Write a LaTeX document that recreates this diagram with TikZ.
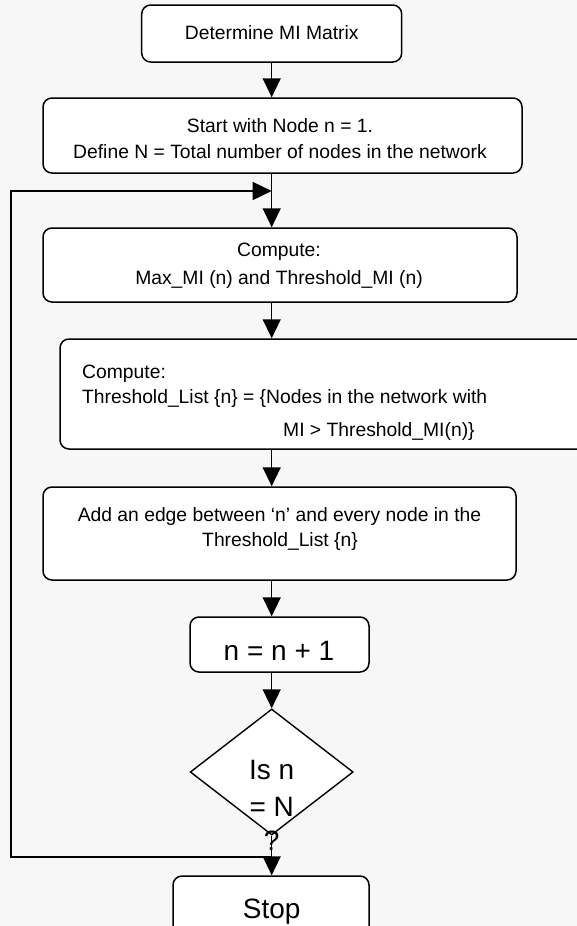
\documentclass[tikz,border=0pt]{standalone}
\usepackage{fontspec}
\setmainfont{Liberation Sans}
\usetikzlibrary{arrows.meta,shapes.geometric}
\definecolor{canvas}{RGB}{247,247,247}
\begin{document}
\begin{tikzpicture}[x=1pt,y=-1pt,
  box/.style={draw, line width=1.5pt, rounded corners=9pt, fill=white, inner sep=0pt},
  decision/.style={draw, line width=1.4pt, diamond, fill=white, inner sep=0pt},
  flow/.style={line width=1.5pt, -{Triangle[length=19pt,width=18pt]}},
  small/.style={font=\fontsize{19.3}{23}\selectfont, inner sep=0pt, anchor=base},
  large/.style={font=\fontsize{28}{34}\selectfont, inner sep=0pt, anchor=base}]

% page and background
\fill[canvas] (0,0) rectangle (577,926);
\useasboundingbox (0,0) rectangle (577,926);
\clip (0,0) rectangle (577,926);

% vertical axis of the flow
\coordinate (axis) at (271.7,0);

% process boxes
\node[box, minimum width=260pt, minimum height=57pt] (init) at (271.7,33.5) {};
\node[box, minimum width=479pt, minimum height=75pt] (start) at (282.5,135.5) {};
\node[box, minimum width=474pt, minimum height=74pt] (maxmi) at (280,265) {};
\node[box, minimum width=560pt, minimum height=110pt] (tlist) at (340,394) {};
\node[box, minimum width=473pt, minimum height=93pt] (edge) at (279.5,533.5) {};
\node[box, minimum width=179pt, minimum height=55pt] (incr) at (279.5,644.5) {};
\node[decision, minimum width=163pt, minimum height=126pt] (test) at (271.7,772) {};
\node[box, minimum width=196pt, minimum height=80pt] (stop) at (271,916) {};

% connectors
\draw[flow] (axis |- init.south) -- (axis |- start.north);
\draw[flow] (axis |- start.south) -- (axis |- maxmi.north);
\draw[flow] (axis |- maxmi.south) -- (axis |- tlist.north);
\draw[flow] (axis |- tlist.south) -- (axis |- edge.north);
\draw[flow] (axis |- edge.south) -- (axis |- incr.north);
\draw[flow] (axis |- incr.south) -- (test.north);
\draw[flow] (test.south) -- (axis |- stop.north);

% loop back to the top of the iteration
\coordinate (loopbot) at (11,857);
\coordinate (looptop) at (11,191);
\draw[flow] (axis |- loopbot) -- (loopbot) -- (looptop) -- (axis |- looptop);

% texts
\node[small] (t1) at (271.7,39.3) {Determine MI Matrix};
\node[small] (t2a) at (280,132) {Start with Node n = 1.};
\node[small] (t2b) at (280,158) {Define N = Total number of nodes in the network};
\node[small] (t3a) at (279,256) {Compute:};
\node[small] (t3b) at (279,284) {Max\_MI (n) and Threshold\_MI (n)};
\node[small, anchor=base west] (t4a) at (82,378) {Compute:};
\node[small, anchor=base west] (t4b) at (82,403) {Threshold\_List \{n\} = \{Nodes in the network with};
\node[small, anchor=base west] (t4c) at (283,436) {MI > Threshold\_MI(n)\}};
\node[small] (t5a) at (279.5,521.7) {Add an edge between ‘n’ and every node in the};
\node[small] (t5b) at (280,546.7) {Threshold\_List \{n\}};
\node[large] (t6) at (279,660) {n = n + 1};
\node[large] (t7a) at (271.7,779) {Is n};
\node[large] (t7b) at (271.7,816.7) {= N};
\node[large] (t7c) at (271.7,850) {?};
\node[large] (t8) at (271.7,918) {Stop};
\end{tikzpicture}
\end{document}
